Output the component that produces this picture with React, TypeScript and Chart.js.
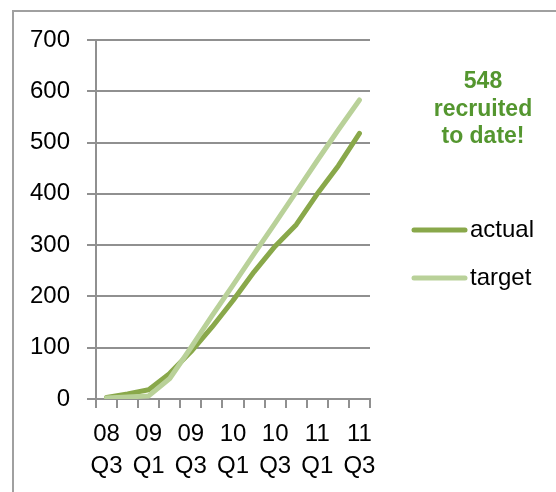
import React, { useEffect, useRef } from "react";
import { Chart, registerables } from "chart.js";

Chart.register(...registerables);

const categories = [
  "08 Q3", "08 Q4", "09 Q1", "09 Q2", "09 Q3", "09 Q4",
  "10 Q1", "10 Q2", "10 Q3", "10 Q4", "11 Q1", "11 Q2", "11 Q3",
];
const actualValues = [3, 10, 18, 50, 92, 140, 192, 248, 298, 340, 400, 455, 518];
const targetValues = [2, 4, 6, 40, 100, 162, 222, 283, 343, 404, 465, 525, 583];
const seriesNames = ["actual", "target"];
const seriesColors = ["#89A84A", "#B9D199"];
const annotationLines = ["548", "recruited", "to date!"];
const yTicks = { min: 0, max: 700, step: 100 };

const FONT = "'Liberation Sans', Arial, sans-serif";
const GRID = "#909090";

const sideLegend = {
  id: "sideLegend",
  afterDraw(chart: any) {
    const ctx = chart.ctx;
    ctx.save();
    chart.data.datasets.forEach((ds: any) => {
      const idx = seriesNames.indexOf(ds.label);
      const y = 230 + idx * 48;
      ctx.strokeStyle = ds.borderColor;
      ctx.lineWidth = 5;
      ctx.lineCap = "round";
      ctx.beginPath();
      ctx.moveTo(414, y);
      ctx.lineTo(465, y);
      ctx.stroke();
      ctx.fillStyle = "#000";
      ctx.font = `24px ${FONT}`;
      ctx.textAlign = "left";
      ctx.textBaseline = "middle";
      ctx.fillText(ds.label, 470, y);
    });
    ctx.fillStyle = "#54962F";
    ctx.font = `bold 23px ${FONT}`;
    ctx.textAlign = "center";
    ctx.textBaseline = "middle";
    annotationLines.forEach((t, i) => ctx.fillText(t, 483, 82 + i * 27.5));
    ctx.restore();
  },
};

export default function App() {
  const ref = useRef<HTMLCanvasElement | null>(null);
  useEffect(() => {
    if (!ref.current) return;
    const chart = new Chart(ref.current, {
      type: "line",
      data: {
        labels: categories,
        datasets: [
          {
            label: seriesNames[1],
            data: targetValues,
            borderColor: seriesColors[1],
            backgroundColor: seriesColors[1],
            borderWidth: 5,
            borderCapStyle: "round",
            borderJoinStyle: "round",
            pointRadius: 0,
            tension: 0,
            order: 0,
          },
          {
            label: seriesNames[0],
            data: actualValues,
            borderColor: seriesColors[0],
            backgroundColor: seriesColors[0],
            borderWidth: 5,
            borderCapStyle: "round",
            borderJoinStyle: "round",
            pointRadius: 0,
            tension: 0,
            order: 1,
          },
        ],
      },
      options: {
        responsive: false,
        animation: false,
        layout: { padding: { top: 40, right: 186, bottom: 0, left: 0 } },
        plugins: { legend: { display: false }, tooltip: { enabled: false } },
        scales: {
          x: {
            type: "category",
            offset: true,
            grid: {
              offset: true,
              drawOnChartArea: false,
              drawTicks: true,
              tickLength: 9,
              color: GRID,
              lineWidth: 2,
            },
            border: { display: true, color: GRID, width: 2 },
            ticks: {
              autoSkip: false,
              maxRotation: 0,
              minRotation: 0,
              padding: 10,
              color: "#000",
              font: { family: FONT, size: 24, lineHeight: 1.333 },
              callback: function (this: any, val: any, idx: number) {
                const lab = categories[idx];
                return idx % 2 === 0 ? lab.split(" ") : "";
              },
            },
            afterFit: (s: any) => {
              s.height = 93;
            },
          },
          y: {
            min: yTicks.min,
            max: yTicks.max,
            grid: { color: GRID, lineWidth: 2, tickLength: 9 },
            border: { display: true, color: GRID, width: 2 },
            ticks: {
              stepSize: yTicks.step,
              padding: 17,
              color: "#000",
              font: { family: FONT, size: 24 },
            },
            afterFit: (s: any) => {
              s.width = 96;
            },
          },
        },
      },
      plugins: [sideLegend],
    });
    return () => chart.destroy();
  }, []);
  return (
    <div style={{ position: "fixed", left: 0, top: 0, width: 556, height: 492, background: "#fff" }}>
      <div
        style={{
          position: "absolute",
          left: 12,
          top: 10,
          right: 0,
          bottom: 0,
          borderLeft: "2px solid #a0a0a0",
          borderTop: "2px solid #a0a0a0",
        }}
      />
      <canvas ref={ref} width={556} height={492} style={{ position: "absolute", left: 0, top: 0 }} />
    </div>
  );
}
